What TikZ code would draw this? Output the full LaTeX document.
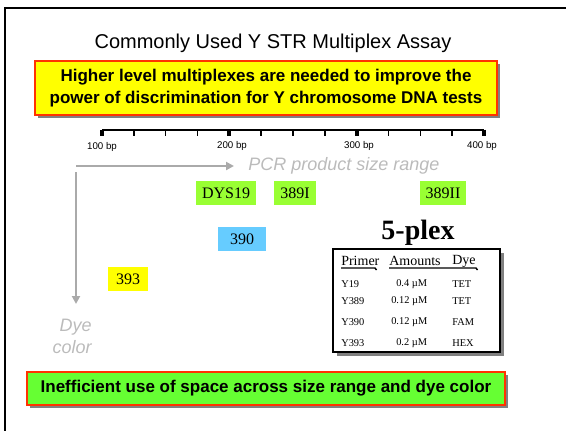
\documentclass[tikz,border=0pt]{standalone}
\usepackage{fontspec}
\setmainfont{Liberation Serif}
\setsansfont{Liberation Sans}
\usetikzlibrary{arrows.meta,shadows}
\definecolor{boxred}{HTML}{FF3300}
\definecolor{hlyellow}{HTML}{FFFF00}
\definecolor{hlgreen}{HTML}{66FF33}
\definecolor{lociGreen}{HTML}{99FF33}
\definecolor{lociBlue}{HTML}{66CCFF}
\definecolor{shadowgray}{HTML}{808080}
\definecolor{axisgray}{HTML}{AAAAAA}
\definecolor{labelgray}{HTML}{BBBBBB}
\begin{document}
\begin{tikzpicture}[x=0.75pt,y=-0.75pt,
  callout/.style={draw=boxred, line width=1.2pt, inner sep=0pt, align=center,
    font=\sffamily\bfseries\fontsize{12.75}{16.5}\selectfont,
    general shadow={fill=shadowgray, shadow xshift=2.5pt, shadow yshift=-2.5pt}},
  locus/.style={inner sep=0pt, minimum height=18pt, font=\fontsize{12}{14}\selectfont},
  ticklabel/.style={font=\sffamily\fontsize{7.3}{9}\selectfont, inner sep=0pt},
  axisarrow/.style={draw=axisgray, line width=1.5pt, -{Triangle[length=6pt,width=6pt]}},
  axislabel/.style={text=labelgray, font=\sffamily\itshape\fontsize{13.5}{16.5}\selectfont, inner sep=0pt},
  tblhead/.style={anchor=west, inner sep=0pt, font=\fontsize{10.5}{12}\selectfont},
  tblcell/.style={anchor=west, inner sep=0pt, font=\fontsize{7.8}{9}\selectfont}
]
\useasboundingbox (0,0) rectangle (566,430);
% frame
\draw[line width=1.5pt] (5,431) -- (5,8) -- (567,8);
% title
\node[font=\sffamily\fontsize{15}{18}\selectfont, inner sep=0pt] (title) at (273,43) {Commonly Used Y STR Multiplex Assay};
% top callout
\node[callout, fill=hlyellow, minimum width=346.5pt, minimum height=40.5pt] (hl) at (266,88)
  {Higher level multiplexes are needed to improve the\\power of discrimination for Y chromosome DNA tests};
% ruler
\coordinate (r100) at (102,130);
\coordinate (r400) at (484,130);
\draw[line width=1.5pt] (r100) -- (r400);
\foreach \i in {1,2,3,5,6,7,9,10,11}
  \draw[line width=1.1pt] ({102+\i*31.833},130) -- ++(0,5.5);
\foreach \i in {0,4,8,12}
  \draw[line width=3pt] ({102+\i*31.833},129.5) -- ++(0,6);
\node[ticklabel] (l100) at (102,147) {100 bp};
\node[ticklabel] (l200) at (232,146) {200 bp};
\node[ticklabel] (l300) at (359,146) {300 bp};
\node[ticklabel] (l400) at (482,146) {400 bp};
% axes
\coordinate (o) at (76,166);
\coordinate (xe) at (234,166);
\coordinate (yo) at (76,172);
\coordinate (ye) at (76,304);
\draw[axisarrow] (o) -- (xe);
\draw[axisarrow] (yo) -- (ye);
\node[axislabel, anchor=west] (xlab) at (248,166) {PCR product size range};
\node[axislabel, align=right, anchor=east] (ylab) at (92,336) {Dye\\color};
% loci
\node[locus, fill=lociGreen, minimum width=45pt] (dys19) at (226,193) {DYS19};
\node[locus, fill=lociGreen, minimum width=31.5pt] (l389a) at (295,193) {389I};
\node[locus, fill=lociGreen, minimum width=34.5pt] (l389b) at (443,193) {389II};
\node[locus, fill=lociBlue, minimum width=36pt] (l390) at (242,239) {390};
\node[locus, fill=hlyellow, minimum width=30pt] (l393) at (128,279) {393};
% 5-plex table
\node[font=\bfseries\fontsize{21}{24}\selectfont, inner sep=0pt] (plex) at (418,233) {5-plex};
\node[draw=black, line width=1.2pt, fill=white, minimum width=125.25pt, minimum height=77.25pt, inner sep=0pt,
  general shadow={fill=shadowgray, shadow xshift=3pt, shadow yshift=-3pt}] (tbl) at (416.5,300.5) {};
\node[tblhead] (hp) at (341,261) {Primer};
\node[tblhead] (ha) at (389,261) {Amounts};
\node[tblhead] (hd) at (452,261) {Dye};
\draw[line width=1.1pt] (341,268) -- (375,268) -- ++(1.5,2);
\draw[line width=1.1pt] (389,268) -- (476,268) -- ++(1.5,2);
\node[tblcell] (p1) at (341,284) {Y19};
\node[tblcell] (a1) at (396,284) {0.4 µM};
\node[tblcell] (d1) at (452,284) {TET};
\node[tblcell] (p2) at (341,301) {Y389};
\node[tblcell] (a2) at (391,301) {0.12 µM};
\node[tblcell] (d2) at (452,301) {TET};
\node[tblcell] (p3) at (341,322) {Y390};
\node[tblcell] (a3) at (391,322) {0.12 µM};
\node[tblcell] (d3) at (452,322) {FAM};
\node[tblcell] (p4) at (341,343) {Y393};
\node[tblcell] (a4) at (396,343) {0.2 µM};
\node[tblcell] (d4) at (452,343) {HEX};
% bottom callout
\node[callout, fill=hlgreen, minimum width=358.5pt, minimum height=24.75pt] (ineff) at (266,388.5)
  {Inefficient use of space across size range and dye color};
\end{tikzpicture}
\end{document}
